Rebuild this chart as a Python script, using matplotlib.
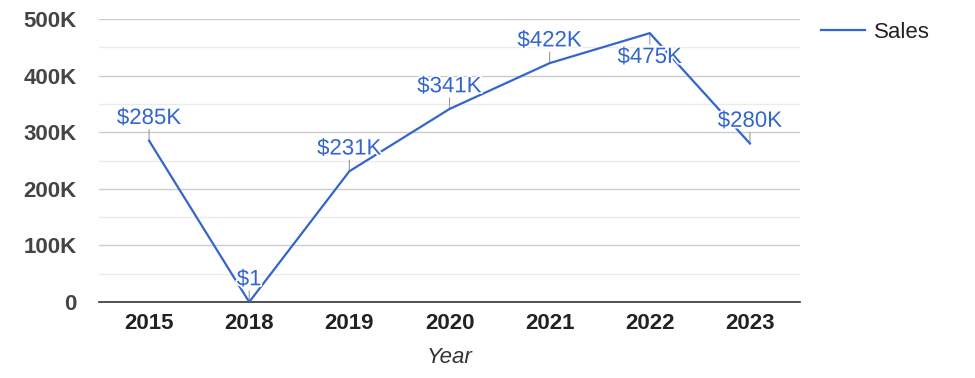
import matplotlib
matplotlib.use("Agg")
import matplotlib.pyplot as plt
import matplotlib.patheffects as pe
from matplotlib.ticker import FixedLocator, MultipleLocator

years = ["2015", "2018", "2019", "2020", "2021", "2022", "2023"]
sales = [285000, 1, 231000, 341000, 422000, 475000, 280000]
labels = ["$285K", "$1", "$231K", "$341K", "$422K", "$475K", "$280K"]
label_below = [False, False, False, False, False, True, False]
yticks = [0, 100000, 200000, 300000, 400000, 500000]
ytick_labels = ["0", "100K", "200K", "300K", "400K", "500K"]

plt.rcParams['font.family'] = ['Liberation Sans', 'DejaVu Sans']
blue = "#3366cc"
fs = 16

fig = plt.figure(figsize=(9.75, 3.78), dpi=100)
ax = fig.add_axes([99/975, 1 - 302/378, 701/975, 283/378])

x = list(range(len(years)))
ax.plot(x, sales, color=blue, lw=1.6, label="Sales", zorder=3, solid_joinstyle='miter')

for i, (v, lab, below) in enumerate(zip(sales, labels, label_below)):
    sgn = -1 if below else 1
    off = 17.5 if below else 16
    ax.annotate('', xy=(i, v), xytext=(0, sgn * 8), textcoords='offset points',
                arrowprops=dict(arrowstyle='-', color='#999999', lw=0.8,
                                shrinkA=0, shrinkB=0), zorder=2)
    ax.annotate(lab, xy=(i, v), xytext=(0, sgn * off), textcoords='offset points',
                ha='center', va='center', color=blue, fontsize=fs, zorder=4,
                path_effects=[pe.withStroke(linewidth=2.5, foreground='white')])

ax.set_xlim(-0.5, len(years) - 0.5)
ax.set_ylim(0, 500000)
ax.set_xticks(x)
ax.set_xticklabels(years, fontsize=fs, fontweight='bold', color='#222222')
ax.yaxis.set_major_locator(FixedLocator(yticks))
ax.set_yticklabels(ytick_labels, fontsize=fs, fontweight='bold', color='#444444')
ax.yaxis.set_minor_locator(MultipleLocator(50000))
ax.tick_params(axis='both', which='both', length=0)
ax.tick_params(axis='y', pad=16)
ax.tick_params(axis='x', pad=8)

ax.grid(True, which='major', axis='y', color='#cccccc', lw=1)
ax.grid(True, which='minor', axis='y', color='#ebebeb', lw=1)
ax.set_axisbelow(True)
for s in ['top', 'right', 'left']:
    ax.spines[s].set_visible(False)
ax.spines['bottom'].set_color('#333333')
ax.spines['bottom'].set_linewidth(1.2)

ax.set_xlabel("Year", fontsize=fs, style='italic', color='#333333', labelpad=9)

ax.legend(loc='upper left', bbox_to_anchor=(821/975, 1 - 22/378),
          bbox_transform=fig.transFigure, frameon=False, fontsize=fs,
          handlelength=2.0, handletextpad=0.4, borderpad=0, borderaxespad=0,
          labelcolor='#222222')

fig.savefig("out.png", dpi=100)
